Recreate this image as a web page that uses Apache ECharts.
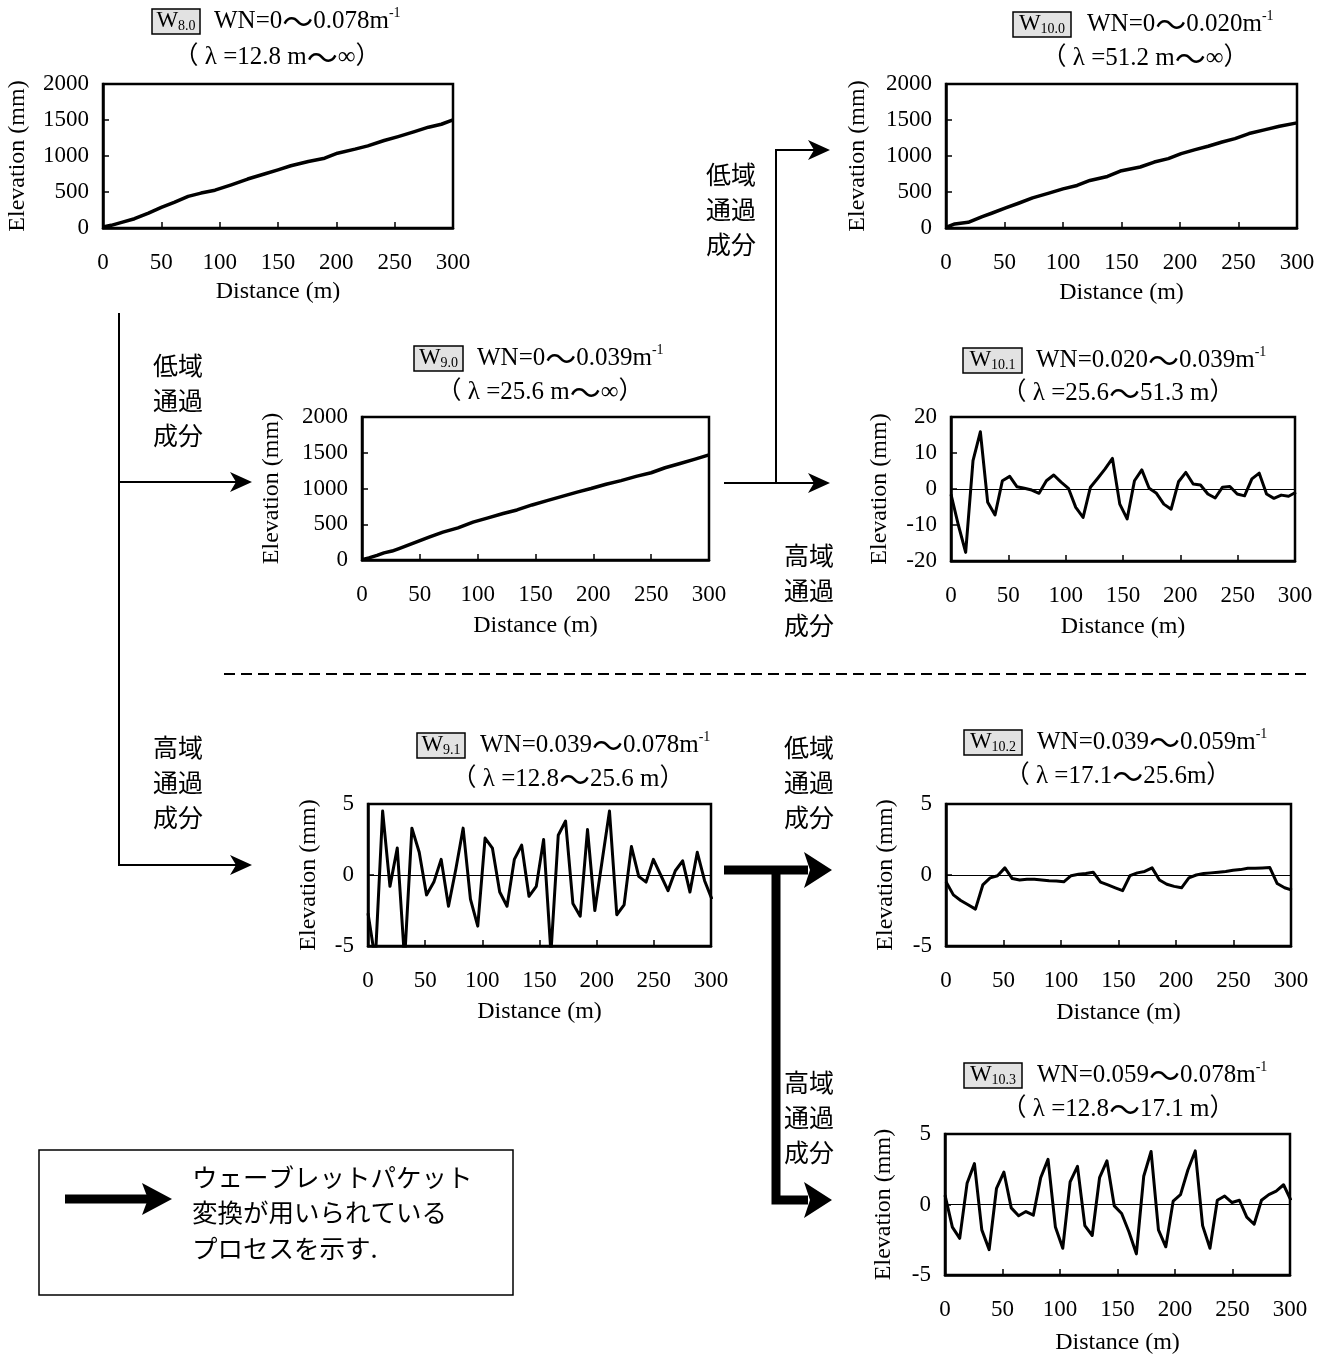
<!DOCTYPE html>
<html><head><meta charset="utf-8">
<script src="https://cdn.jsdelivr.net/npm/echarts@6/dist/echarts.min.js"></script>
<style>html,body{margin:0;padding:0;background:#fff}#c{width:1332px;height:1358px}</style>
</head><body><div id="c"></div>
<script>
// ---------- data ----------
// sample positions (m) of the band components
const DIST = [0,6.4,12.8,19.2,25.6,32,38.4,44.8,51.2,57.6,64,70.4,76.8,83.2,89.6,96,102.4,108.8,115.2,121.6,128,134.4,140.8,147.2,153.6,160,166.4,172.8,179.2,185.6,192,198.4,204.8,211.2,217.6,224,230.4,236.8,243.2,249.6,256,262.4,268.8,275.2,281.6,288,294.4,300.8];
// W10.1 (mm)
const W101 = [-1.5,-10,-17.6,7.9,15.9,-3.7,-7.2,2.3,3.5,0.6,0.2,-0.3,-1.2,2.3,3.9,1.9,0.2,-5.1,-7.9,0.5,3.0,5.6,8.5,-4.2,-8.3,2.3,5.3,0.2,-1.2,-4.2,-5.6,2,4.6,1.4,1.1,-1.4,-2.5,0.5,0.7,-1.4,-1.9,2.8,4.4,-1.4,-2.6,-1.7,-2,-0.9];
// W9.1 (mm)
const W91 = [-2.7,-6,4.5,-0.8,1.9,-6,3.3,1.6,-1.4,-0.5,1.1,-2.2,0.4,3.3,-1.7,-3.6,2.6,1.9,-1.2,-2.2,1.1,2.1,-1.5,-0.8,2.5,-5.5,2.8,3.8,-2.0,-2.9,3.2,-2.5,1.0,4.5,-2.8,-2.1,2.0,-0.1,-0.5,1.1,0,-1.1,0.3,1.0,-1.2,1.6,-0.4,-1.7];
// W10.2 (mm)
const W102 = [-0.48,-1.4,-1.8,-2.1,-2.4,-0.7,-0.2,-0.05,0.5,-0.25,-0.35,-0.3,-0.3,-0.35,-0.4,-0.42,-0.48,-0.05,0.05,0.1,0.2,-0.5,-0.7,-0.9,-1.1,-0.05,0.15,0.25,0.5,-0.35,-0.65,-0.8,-0.9,-0.2,0,0.1,0.15,0.2,0.25,0.33,0.38,0.48,0.48,0.5,0.52,-0.6,-0.9,-1.07];
// W10.3 (mm)
const W103 = [0.67,-1.6,-2.4,1.5,2.9,-1.8,-3.2,1.15,2.3,-0.24,-0.8,-0.5,-0.76,1.9,3.2,-1.6,-3.1,1.6,2.7,-1.5,-2.2,1.9,3.1,-0.1,-0.64,-1.95,-3.5,2.0,3.76,-1.8,-3.0,0.24,0.7,2.45,3.8,-1.5,-3.1,0.3,0.6,0.14,0.3,-0.9,-1.4,0.3,0.7,0.95,1.4,0.3];
// trend components
const DIST80 = [0,7,16,27,39,50,61,73,84,96,110,124,139,150,161,176,190,201,216,227,241,253,267,279,290,300];
const W80 = [14,37,78,129,208,286,356,439,485,525,600,680,753,808,864,924,970,1039,1095,1141,1215,1270,1339,1400,1441,1501];
const DIST90 = [0,6,13,19,26,32,45,58,70,83,96,109,122,134,147,160,173,186,198,211,224,237,250,262,275,288,300];
const W90 = [5,30,65,100,125,160,240,320,390,450,530,590,650,700,770,830,890,950,1000,1060,1110,1170,1220,1290,1350,1410,1470];
const DIST100 = [0,7.5,19,31,39,51,62,74,88,100,112,123,138,149,166,178,190,201,213,224,236,247,259,273,285,300];
const W100 = [9,56,79,158,205,279,344,419,484,544,591,660,716,791,847,916,963,1033,1088,1135,1195,1242,1312,1367,1414,1460];

const BOX_SUBS = ['8.0','10.0','9.0','10.1','9.1','10.2','10.3'];
const WN_TEXT = ['WN=0～0.078m','WN=0～0.020m','WN=0～0.039m','WN=0.020～0.039m','WN=0.039～0.078m','WN=0.039～0.059m','WN=0.059～0.078m'];
const LAMBDA_TEXT = ['（ λ =12.8 m～∞）','（ λ =51.2 m～∞）','（ λ =25.6 m～∞）','（ λ =25.6～51.3 m）','（ λ =12.8～25.6 m）','（ λ =17.1～25.6m）','（ λ =12.8～17.1 m）'];
const LOW = '低域\n通過\n成分', HIGH = '高域\n通過\n成分';
const LEGEND_LINES = ['ウェーブレットパケット','変換が用いられている','プロセスを示す.'];
const X_NAME = 'Distance (m)', Y_NAME = 'Elevation (mm)';

// ---------- layout ----------
const SERIF = "'Liberation Serif','Noto Sans CJK JP',serif";
const CJK = "'Noto Sans CJK JP',sans-serif";
const PANELS = [
  {x:DIST80, y:W80, left:103, top:84, w:350, h:144, min:0, max:2000, iv:500, yGap:73, xGap:52, zero:false, lw:3.5},
  {x:DIST100, y:W100, left:946, top:84, w:351, h:144, min:0, max:2000, iv:500, yGap:76, xGap:53, zero:false, lw:3.5},
  {x:DIST90, y:W90, left:362, top:417, w:347, h:143, min:0, max:2000, iv:500, yGap:78, xGap:54, zero:false, lw:3.5},
  {x:DIST, y:W101, left:951, top:417, w:344, h:144, min:-20, max:20, iv:10, yGap:59, xGap:54, zero:true, lw:3},
  {x:DIST, y:W91, left:368, top:804, w:343, h:142, min:-5, max:5, iv:5, yGap:47, xGap:54, zero:true, lw:3},
  {x:DIST, y:W102, left:946, top:804, w:345, h:142, min:-5, max:5, iv:5, yGap:48, xGap:55, zero:true, lw:3},
  {x:DIST, y:W103, left:945, top:1134, w:345, h:141, min:-5, max:5, iv:5, yGap:49, xGap:56, zero:true, lw:3}
];
const TITLE_POS = [
  {bx:152, bw:48, cy:21, tx:214, lx:277, ly:57},
  {bx:1013, bw:58, cy:24, tx:1087, lx:1145, ly:58},
  {bx:414, bw:49, cy:358, tx:477, lx:540, ly:392},
  {bx:963, bw:59, cy:360, tx:1036, lx:1118, ly:393},
  {bx:417, bw:48, cy:745, tx:480, lx:568, ly:779},
  {bx:964, bw:58, cy:742, tx:1037, lx:1118, ly:776},
  {bx:964, bw:58, cy:1075, tx:1037, lx:1118, ly:1109}
];

const chart = echarts.init(document.getElementById('c'), null, {renderer:'canvas'});
const G = [];
function ln(x1,y1,x2,y2,w,dash){G.push({type:'line',silent:true,z:10,shape:{x1,y1,x2,y2},style:{stroke:'#000',lineWidth:w,lineDash:dash||null}});}
function pl(points,w){G.push({type:'polyline',silent:true,z:10,shape:{points},style:{stroke:'#000',lineWidth:w,lineJoin:'miter',lineCap:'butt',fill:null}});}
function head(tx,y,len,half,notch){G.push({type:'polygon',silent:true,z:11,shape:{points:[[tx,y],[tx-len,y-half],[tx-len+notch,y],[tx-len,y+half]]},style:{fill:'#000'}});}
function txt(x,y,text,style){G.push({type:'text',silent:true,z:12,x,y,style:Object.assign({text,fill:'#000'},style)});}
function wave(s){return s.split('～').map(p=>p?'{a|'+p+'}':'').join('{t|～}');}

const RICH = {
  a:{fontSize:25,fontFamily:SERIF,lineHeight:30,fill:'#000'},
  t:{fontSize:31,fontFamily:CJK,lineHeight:30,fill:'#000'},
  s:{fontSize:14,fontFamily:SERIF,lineHeight:14,verticalAlign:'top',fill:'#000'}
};
// titles
TITLE_POS.forEach((p,i)=>{
  G.push({type:'rect',silent:true,z:10,shape:{x:p.bx,y:p.cy-12,width:p.bw,height:25},style:{fill:'#e2e2e2',stroke:'#000',lineWidth:1.5}});
  txt(p.bx+p.bw/2, p.cy, '{w|W}{s|'+BOX_SUBS[i]+'}', {align:'center',verticalAlign:'middle',
     rich:{w:{fontSize:23,fontFamily:SERIF,lineHeight:24,fill:'#000'},s:{fontSize:14,fontFamily:SERIF,lineHeight:14,verticalAlign:'bottom',fill:'#000'}}});
  txt(p.tx, p.cy, wave(WN_TEXT[i])+'{s|-1}', {align:'left',verticalAlign:'middle',rich:RICH});
  txt(p.lx, p.ly, wave(LAMBDA_TEXT[i]), {align:'center',verticalAlign:'middle',rich:RICH});
});

// flow labels
const lab = {fontSize:25,fontFamily:CJK,lineHeight:35,align:'left',verticalAlign:'top'};
txt(153,348,LOW,lab); txt(153,730,HIGH,lab);
txt(706,157,LOW,lab); txt(784,538,HIGH,lab);
txt(784,730,LOW,lab); txt(784,1065,HIGH,lab);

// thin arrows (left bracket)
ln(119,313,119,866,2);
ln(119,482,236,482,2); head(252,482,22,10,6);
ln(119,865,236,865,2); head(252,865,22,10,6);
// thin arrows (from W9.0)
ln(724,483,814,483,2); head(830,483,22,10,6);
ln(776,149,776,483,2);
ln(775,150,814,150,2); head(830,150,22,10,6);
// thick arrows (from W9.1)
pl([[724,870],[808,870]],9); head(832,870,28,18,6);
pl([[776,866],[776,1200],[808,1200]],9); head(832,1200,28,18,6);
// dashed separator
ln(224,674,1306,674,2,[11,6]);
// legend box
G.push({type:'rect',silent:true,z:10,shape:{x:39,y:1150,width:474,height:145},style:{fill:null,stroke:'#000',lineWidth:1.5}});
pl([[65,1199],[150,1199]],9); head(172,1199,30,16,6);
LEGEND_LINES.forEach((s,i)=>txt(192,1177+i*35.5,s,{fontSize:25.5,fontFamily:CJK,align:'left',verticalAlign:'middle'}));

const axisFont = {color:'#000',fontFamily:SERIF,fontSize:23,formatter:v=>String(v)};
const option = {
  backgroundColor:'#fff',
  animation:false,
  grid: PANELS.map(p=>({left:p.left,top:p.top,width:p.w,height:p.h,show:true,borderColor:'#000',borderWidth:2.5,backgroundColor:'transparent'})),
  xAxis: PANELS.map((p,i)=>({gridIndex:i,type:'value',min:0,max:300,interval:50,
    axisLine:{show:true,onZero:false,lineStyle:{color:'#000',width:2.5}},
    axisTick:{show:true,inside:true,length:6,lineStyle:{color:'#000',width:1.5}},
    axisLabel:Object.assign({margin:23},axisFont),
    splitLine:{show:false},
    name:X_NAME,nameLocation:'middle',nameGap:p.xGap,nameTextStyle:{color:'#000',fontFamily:SERIF,fontSize:24}})),
  yAxis: PANELS.map((p,i)=>({gridIndex:i,type:'value',min:p.min,max:p.max,interval:p.iv,
    axisLine:{show:true,onZero:false,lineStyle:{color:'#000',width:2.5}},
    axisTick:{show:true,inside:true,length:6,lineStyle:{color:'#000',width:1.5}},
    axisLabel:Object.assign({margin:14},axisFont),
    splitLine:{show:false},
    name:Y_NAME,nameLocation:'middle',nameGap:p.yGap,nameTextStyle:{color:'#000',fontFamily:SERIF,fontSize:24}})),
  series: PANELS.map((p,i)=>({type:'line',xAxisIndex:i,yAxisIndex:i,silent:true,
    data:p.x.map((x,k)=>[x,p.y[k]]),showSymbol:false,symbol:'none',clip:true,
    lineStyle:{color:'#000',width:p.lw,join:'round'},
    markLine:p.zero?{silent:true,symbol:'none',label:{show:false},lineStyle:{color:'#000',width:1,type:'solid'},data:[{yAxis:0}]}:undefined})),
  graphic:{elements:G}
};
chart.setOption(option);
</script></body></html>
